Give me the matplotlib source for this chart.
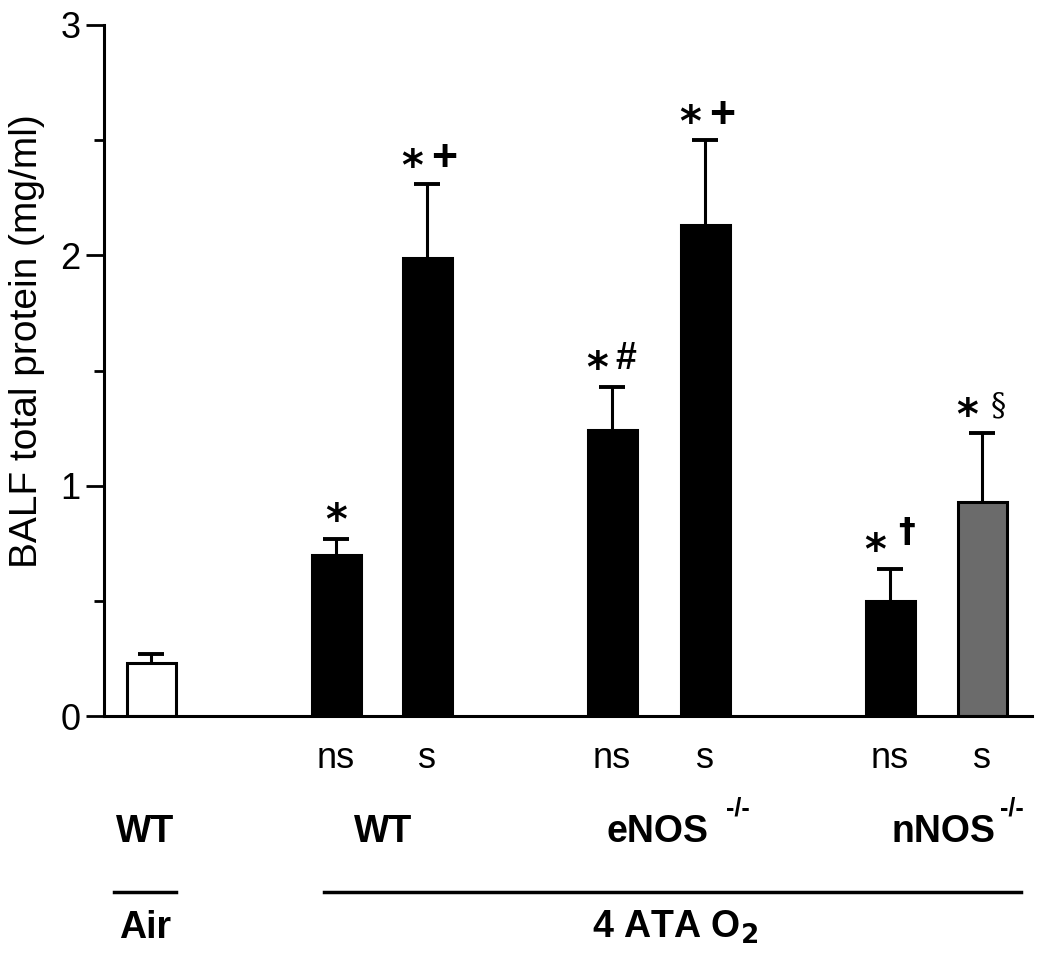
import matplotlib
matplotlib.use('Agg')
import matplotlib.pyplot as plt
from matplotlib.lines import Line2D
import numpy as np

plt.rcParams['font.family'] = ['Liberation Sans', 'DejaVu Sans']

# data
conditions = ['ns', 's', 'ns', 's', 'ns', 's']
means = [0.23, 0.70, 1.99, 1.24, 2.13, 0.50, 0.93]
errors = [0.04, 0.07, 0.32, 0.19, 0.37, 0.14, 0.30]
bar_colors = ['white', 'black', 'black', 'black', 'black', 'black', '#6b6b6b']
first_mark = ['', '*', '*', '*', '*', '*', '*']
second_mark = ['', '', '+', '#', '+', '\u2020', '\u00a7']
group_labels = ['WT', 'WT', 'eNOS', 'nNOS']

# layout
xpos = np.array([47, 232, 323, 508, 601, 786, 878])
width = 49
W, H = 1050, 969

fig = plt.figure(figsize=(W / 100, H / 100), dpi=100)
ax = fig.add_axes([104 / W, 1 - 716 / H, 928 / W, 691 / H])

ax.bar(xpos, means, width=width, color=bar_colors, edgecolor='black', linewidth=2.2, zorder=2)
for x, m, e in zip(xpos, means, errors):
    ax.plot([x, x], [m, m + e], color='black', lw=2.2, zorder=1)
    ax.plot([x - 13, x + 13], [m + e, m + e], color='black', lw=2.8, zorder=1,
            solid_capstyle='butt')

# significance marks
second_style = {
    '+': dict(family=['Liberation Sans'], fontweight='bold', fontsize=32, dx=12, dy=9),
    '#': dict(family=['Liberation Sans'], fontweight='bold', fontsize=27, dx=10, dy=13),
    '\u2020': dict(family=['DejaVu Sans'], fontweight='bold', fontsize=24, dx=12, dy=19),
    '\u00a7': dict(family=['DejaVu Serif'], fontweight='normal', fontsize=22, dx=12, dy=13),
}
for x, m, e, a, b in zip(xpos, means, errors, first_mark, second_mark):
    if not a:
        continue
    top = m + e
    if not b:
        ax.annotate(a, (x, top), xytext=(0, 3), textcoords='offset points',
                    ha='center', va='baseline', fontsize=30, fontweight='bold',
                    family=['DejaVu Sans'])
        continue
    st = dict(second_style[b])
    dx, dy = st.pop('dx'), st.pop('dy')
    ax.annotate(a, (x, top), xytext=(-11, 3), textcoords='offset points',
                ha='center', va='baseline', fontsize=30, fontweight='bold',
                family=['DejaVu Sans'])
    ax.annotate(b, (x, top), xytext=(dx, dy), textcoords='offset points',
                ha='center', va='baseline', **st)

ax.set_xlim(0, 928)
ax.set_ylim(0, 3)
ax.set_yticks([0, 1, 2, 3])
ax.set_yticks([0.5, 1.5, 2.5], minor=True)
ax.set_xticks([])
ax.tick_params(axis='y', which='major', length=13, width=2, labelsize=26, pad=4)
ax.tick_params(axis='y', which='minor', length=7, width=2)
for s in ['top', 'right']:
    ax.spines[s].set_visible(False)
ax.spines['left'].set_linewidth(2.2)
ax.spines['bottom'].set_linewidth(2.2)
ax.spines['left'].set_bounds(0, 3)

fig.text(27 / W, 1 - 341 / H, 'BALF total protein (mg/ml)', rotation=90,
         ha='center', va='center', fontsize=28)

# category labels under the axis
def to_fig(x):
    return ax.transData.transform((x, 0))[0] / fig.bbox.width

for x, c in zip(xpos[1:], conditions):
    fig.text(to_fig(x), 1 - 759 / H, c, ha='center', va='center', fontsize=26)

grp_x = [145, 383, 657, 944]
for gx, g in zip(grp_x, group_labels):
    fig.text(gx / W, 1 - 842 / H, g, ha='center', va='baseline', fontsize=27, fontweight='bold')
fig.text(726 / W, 1 - 816 / H, '-/-', ha='left', va='baseline', fontsize=18, fontweight='bold')
fig.text(1000 / W, 1 - 816 / H, '-/-', ha='left', va='baseline', fontsize=18, fontweight='bold')

fig.add_artist(Line2D([114 / W, 176 / W], [1 - 892 / H] * 2, color='black', lw=2.5))
fig.add_artist(Line2D([324 / W, 1021 / W], [1 - 892 / H] * 2, color='black', lw=2.5))
fig.text(145 / W, 1 - 938 / H, 'Air', ha='center', va='baseline', fontsize=27, fontweight='bold')
fig.text(675 / W, 1 - 938 / H, r'4 ATA O$_\mathbf{2}$', ha='center', va='baseline',
         fontsize=27, fontweight='bold')

fig.savefig('out.png', dpi=100)
